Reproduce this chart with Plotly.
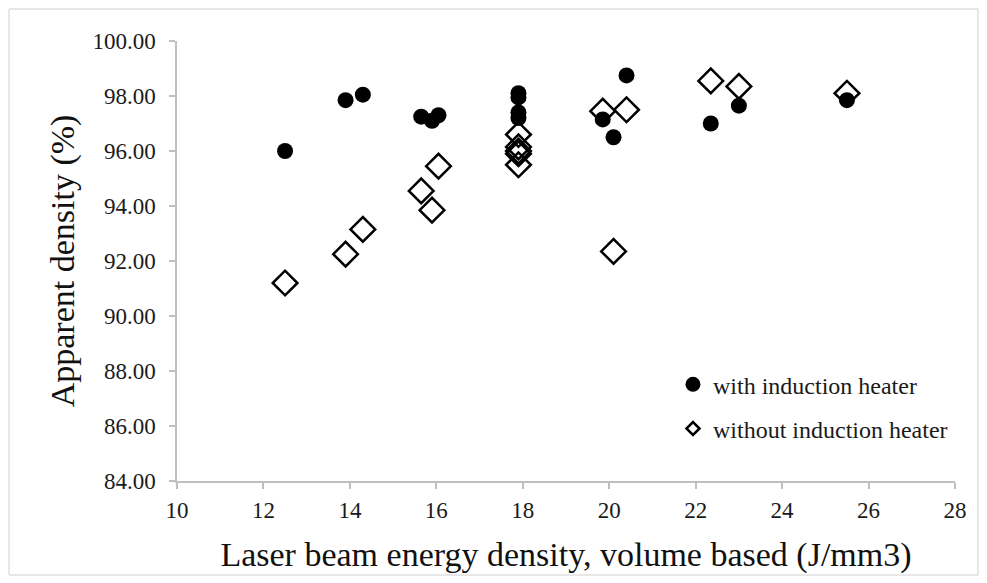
import plotly.graph_objects as go

# With induction heater (filled circles)
with_x = [12.5, 13.9, 14.3, 15.65, 15.9, 16.05, 17.9, 17.9, 17.9, 17.9, 19.85, 20.1, 20.4, 22.35, 23.0, 25.5]
with_y = [96.0, 97.85, 98.05, 97.25, 97.1, 97.3, 98.1, 97.95, 97.4, 97.2, 97.15, 96.5, 98.75, 97.0, 97.65, 97.85]

# Without induction heater (open diamonds)
without_x = [12.5, 13.9, 14.3, 15.65, 15.9, 16.05, 17.9, 17.9, 17.9, 17.9, 17.9, 19.85, 20.1, 20.4, 22.35, 23.0, 25.5]
without_y = [91.2, 92.25, 93.15, 94.55, 93.85, 95.45, 96.6, 96.15, 96.0, 95.9, 95.5, 97.45, 92.35, 97.5, 98.55, 98.35, 98.1]

x_ticks = [10, 12, 14, 16, 18, 20, 22, 24, 26, 28]
y_ticks = [84, 86, 88, 90, 92, 94, 96, 98, 100]

FONT = "Liberation Serif, Times New Roman, serif"
AXIS_COLOR = "#bfbfbf"
TEXT_COLOR = "#1a1a1a"

fig = go.Figure()

# data traces: diamonds drawn first, circles on top
fig.add_trace(go.Scatter(
    x=without_x, y=without_y, mode="markers", showlegend=False,
    marker=dict(symbol="diamond-open", size=19, color="black", line=dict(width=2.5, color="black")),
))
fig.add_trace(go.Scatter(
    x=with_x, y=with_y, mode="markers", showlegend=False,
    marker=dict(symbol="circle", size=16, color="black"),
))

# legend entries
fig.add_trace(go.Scatter(
    x=[None], y=[None], mode="markers", name="with induction heater", legendgroup="a",
    marker=dict(symbol="circle", size=15, color="black"),
))
fig.add_trace(go.Scatter(
    x=[None], y=[None], mode="markers", name="without induction heater", legendgroup="b",
    marker=dict(symbol="diamond-open", size=10, color="black", line=dict(width=2.5, color="black")),
))

W, H = 971, 568
L, R, T, B = 169, 24, 33, 95
PW, PH = W - L - R, H - T - B

fig.update_layout(
    width=W, height=H,
    margin=dict(l=L, r=R, t=T, b=B, autoexpand=False),
    paper_bgcolor="white", plot_bgcolor="white",
    font=dict(family=FONT, color=TEXT_COLOR),
    legend=dict(
        x=0.6375, y=0.27, xanchor="left", yanchor="top",
        font=dict(family=FONT, size=24, color=TEXT_COLOR),
        bgcolor="rgba(0,0,0,0)", tracegroupgap=10, itemwidth=30,
        traceorder="grouped",
    ),
    shapes=[dict(
        type="rect", xref="paper", yref="paper",
        x0=-(L - 1) / PW, x1=(W - 1 - L) / PW,
        y0=-(B - 1) / PH, y1=1 + (T - 1) / PH,
        line=dict(color="#d0d0d0", width=1), fillcolor="rgba(0,0,0,0)", layer="below",
    )],
)

fig.update_xaxes(
    range=[10, 28], tickvals=x_ticks, ticktext=[str(v) for v in x_ticks],
    showgrid=False, zeroline=False, showline=True, linecolor=AXIS_COLOR, linewidth=1.5,
    ticks="outside", ticklen=6, tickcolor=AXIS_COLOR, tickwidth=1.5,
    ticklabelstandoff=2, automargin=False,
    tickfont=dict(family=FONT, size=23, color=TEXT_COLOR),
    title=dict(text="Laser beam energy density, volume based (J/mm3)",
               font=dict(family=FONT, size=34, color="#111111"), standoff=20),
)
fig.update_yaxes(
    range=[84, 100], tickvals=y_ticks, ticktext=[f"{v:.2f}" for v in y_ticks],
    showgrid=False, zeroline=False, showline=True, linecolor=AXIS_COLOR, linewidth=1.5,
    ticks="outside", ticklen=6, tickcolor=AXIS_COLOR, tickwidth=1.5,
    ticklabelstandoff=9, automargin=False,
    tickfont=dict(family=FONT, size=23, color=TEXT_COLOR),
    title=dict(text="Apparent density (%)",
               font=dict(family=FONT, size=34, color="#111111"), standoff=8),
)

fig.write_html("out.html")
